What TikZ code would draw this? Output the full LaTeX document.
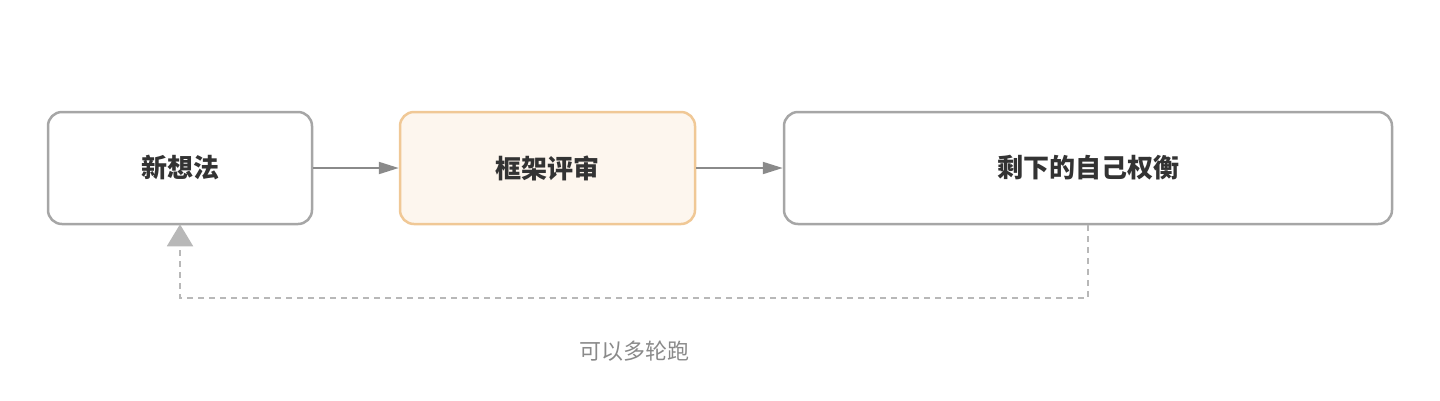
\documentclass[tikz,border=0pt]{standalone}
\usepackage{fontspec}
\setmainfont{Noto Sans CJK SC}
\usetikzlibrary{arrows.meta}
\definecolor{bd}{HTML}{A6A6A6}
\definecolor{obd}{HTML}{F0C896}
\definecolor{ofill}{HTML}{FDF6EE}
\definecolor{ar}{HTML}{8A8A8A}
\definecolor{tx}{HTML}{333333}
\begin{document}
\begin{tikzpicture}[x=1pt,y=-1pt,
 box/.style={draw=bd,line width=2.5pt,rounded corners=14pt,fill=white,font=\fontsize{26}{30}\selectfont\bfseries,text=tx,inner sep=0pt},
 arr/.style={draw=ar,line width=2pt,-{Triangle[length=20pt,width=12pt]}}]
\useasboundingbox (0,0) rectangle (1440,400);
\node[box,minimum width=264pt,minimum height=112pt] (a) at (180,168) {新想法};
\node[box,draw=obd,fill=ofill,minimum width=295pt,minimum height=112pt] (b) at (547.5,168) {框架评审};
\node[box,minimum width=608pt,minimum height=112pt] (c) at (1088,168) {剩下的自己权衡};
\draw[arr] (a.east) -- (b.west);
\draw[arr] (b.east) -- (c.west);
\coordinate (d1) at (1088,298);
\coordinate (d2) at (180,298);
\draw[draw=bd!80,line width=2pt,dash pattern=on 6pt off 5pt,-{Triangle[length=22pt,width=26pt]},shorten >=-1pt] (c.south) -- (d1) -- (d2) -- (a.south);
\node[font=\fontsize{22}{26}\selectfont,text=ar] (l) at (634,351) {可以多轮跑};
\end{tikzpicture}
\end{document}
